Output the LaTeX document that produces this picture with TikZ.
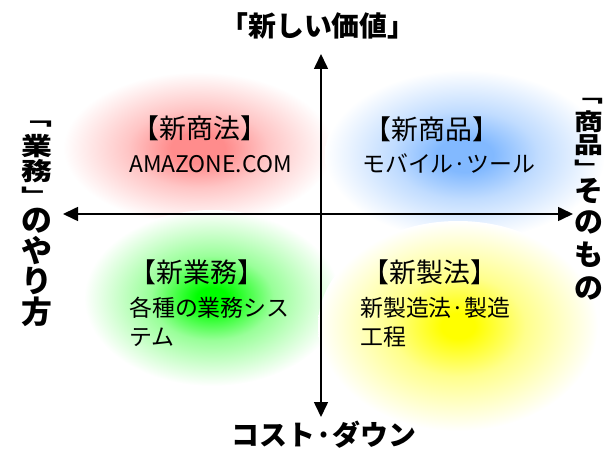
\documentclass[tikz,border=0pt]{standalone}
\usepackage{fontspec}
\setmainfont{Noto Sans CJK JP}
\usetikzlibrary{arrows.meta}
\definecolor{gred}{RGB}{255,140,140}
\definecolor{gblue}{RGB}{130,185,255}
\definecolor{ggreen}{RGB}{0,255,0}
\definecolor{gyellow}{RGB}{255,255,0}
\pgfdeclareradialshading{redglow}{\pgfpoint{0bp}{0bp}}{color(0bp)=(gred); color(5bp)=(gred); color(13bp)=(gred!50!white); color(25bp)=(white); color(50bp)=(white)}
\pgfdeclareradialshading{blueglow}{\pgfpoint{0bp}{0bp}}{color(0bp)=(gblue); color(5bp)=(gblue); color(13bp)=(gblue!50!white); color(25bp)=(white); color(50bp)=(white)}
\pgfdeclareradialshading{greenglow}{\pgfpoint{0bp}{0bp}}{color(0bp)=(ggreen); color(3bp)=(ggreen); color(12bp)=(ggreen!40!white); color(25bp)=(white); color(50bp)=(white)}
\pgfdeclareradialshading{yellowglow}{\pgfpoint{0bp}{0bp}}{color(0bp)=(gyellow); color(3bp)=(gyellow); color(12bp)=(gyellow!45!white); color(25bp)=(white); color(50bp)=(white)}
\tikzset{
  axis/.style={line width=1.6bp, {Triangle[length=15bp,width=14bp]}-{Triangle[length=15bp,width=14bp]}},
  axlabel/.style={font=\bfseries\fontsize{28}{28}\selectfont, inner sep=0pt},
  vleft/.style={font=\bfseries\fontsize{31}{31}\selectfont, inner sep=0pt},
  vright/.style={font=\bfseries\fontsize{29}{29}\selectfont, inner sep=0pt},
  head/.style={font=\fontsize{27}{27}\selectfont, inner sep=0pt},
  sub/.style={font=\fontsize{23}{23}\selectfont, inner sep=0pt, anchor=base west},
}
\begin{document}
\begin{tikzpicture}[x=1bp,y=-1bp]
\useasboundingbox (0,0) rectangle (605,450);
% glows
\shade[shading=redglow] (198,148) ellipse (135 and 76);
\shade[shading=greenglow] (212,298) ellipse (128 and 88);
\shade[shading=blueglow] (465,155) ellipse (140 and 85);
\shade[shading=yellowglow] (458,326) ellipse (140 and 105);
% axes
\coordinate (top) at (321,54);
\coordinate (bottom) at (321,417);
\coordinate (left) at (63,214);
\coordinate (right) at (573,214);
\draw[axis] (bottom) -- (top);
\draw[axis] (left) -- (right);
% axis labels
\node[axlabel] (tlabel) at (318,26) {「新しい価値」};
\node[axlabel] (blabel) at (324,435) {コスト·ダウン};
% left vertical label
\node[vleft] (l1) at (37,124) {\scalebox{1}[0.6]{﹁}};
\node[vleft] (l2) at (37,146) {\scalebox{1}[0.8]{業}};
\node[vleft] (l3) at (37,171) {\scalebox{1}[0.8]{務}};
\node[vleft] (l4) at (37,195) {\scalebox{1}[0.6]{﹂}};
\node[vleft] (l5) at (37,221) {の};
\node[vleft] (l6) at (37,251) {や};
\node[vleft] (l7) at (37,281) {り};
\node[vleft] (l8) at (37,312) {方};
% right vertical label
\node[vright] (r1) at (589,101) {\scalebox{1}[0.6]{﹁}};
\node[vright] (r2) at (589,122) {\scalebox{1}[0.8]{商}};
\node[vright] (r3) at (589,145) {\scalebox{1}[0.8]{品}};
\node[vright] (r4) at (589,167) {\scalebox{1}[0.6]{﹂}};
\node[vright] (r5) at (589,191) {そ};
\node[vright] (r6) at (589,222) {の};
\node[vright] (r7) at (589,255) {も};
\node[vright] (r8) at (589,288) {の};
% quadrants
\node[head] (h1) at (200,128) {【新商法】};
\node[sub] (s1) at (129,173) {AMAZONE.COM};
\node[head] (h2) at (432,129) {【新商品】};
\node[sub] (s2) at (362,173) {モバイル·ツール};
\node[head] (h3) at (197,272) {【新業務】};
\node[sub] (s3a) at (129,316) {各種の業務シス};
\node[sub] (s3b) at (129,345) {テム};
\node[head] (h4) at (430,272) {【新製法】};
\node[sub] (s4a) at (360,316) {新製造法·製造};
\node[sub] (s4b) at (360,345) {工程};
\end{tikzpicture}
\end{document}
